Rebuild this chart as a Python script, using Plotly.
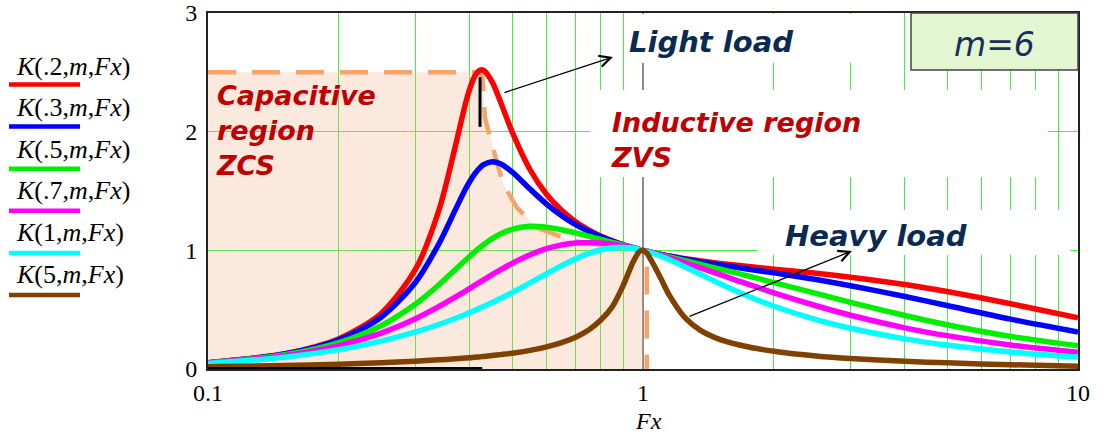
import plotly.graph_objects as go

# ---------------- data ----------------
Fx = [0.1, 0.15, 0.2, 0.25, 0.3, 0.34, 0.37, 0.39, 0.4, 0.41, 0.42, 0.43, 0.45, 0.47,
      0.5, 0.55, 0.6, 0.65, 0.7, 0.75, 0.8, 0.85, 0.9, 0.95, 0.98, 1.0, 1.02, 1.05,
      1.1, 1.15, 1.25, 1.35, 1.5, 1.75, 2, 2.5, 3, 4, 5, 7, 10]

K_02 = [0.053, 0.128, 0.255, 0.468, 0.841, 1.346, 1.871, 2.224, 2.364, 2.463,
        2.514, 2.518, 2.420, 2.255, 2.000, 1.679, 1.473, 1.337, 1.242, 1.173,
        1.121, 1.081, 1.048, 1.022, 1.008, 1.000, 0.992, 0.982, 0.966, 0.952,
        0.930, 0.912, 0.890, 0.863, 0.841, 0.806, 0.773, 0.712, 0.653, 0.550,
        0.432]
K_03 = [0.053, 0.126, 0.246, 0.436, 0.731, 1.060, 1.339, 1.510, 1.582, 1.643,
        1.689, 1.722, 1.747, 1.730, 1.661, 1.516, 1.390, 1.292, 1.217, 1.160,
        1.114, 1.077, 1.047, 1.022, 1.008, 1.000, 0.992, 0.981, 0.965, 0.950,
        0.926, 0.905, 0.878, 0.841, 0.810, 0.754, 0.702, 0.611, 0.535, 0.420,
        0.312]
K_05 = [0.051, 0.120, 0.223, 0.365, 0.547, 0.712, 0.837, 0.915, 0.951, 0.986,
        1.018, 1.047, 1.098, 1.137, 1.177, 1.202, 1.195, 1.174, 1.147, 1.119,
        1.092, 1.067, 1.043, 1.021, 1.008, 1.000, 0.992, 0.981, 0.962, 0.945,
        0.913, 0.883, 0.843, 0.782, 0.728, 0.637, 0.562, 0.451, 0.373, 0.275,
        0.196]
K_07 = [0.050, 0.112, 0.197, 0.303, 0.424, 0.527, 0.605, 0.655, 0.680, 0.704,
        0.728, 0.751, 0.795, 0.835, 0.890, 0.963, 1.014, 1.046, 1.062, 1.066,
        1.062, 1.052, 1.037, 1.019, 1.008, 1.000, 0.992, 0.980, 0.959, 0.937,
        0.895, 0.854, 0.797, 0.713, 0.642, 0.533, 0.453, 0.347, 0.281, 0.202,
        0.142]
K_1 = [0.047, 0.099, 0.163, 0.235, 0.312, 0.377, 0.426, 0.459, 0.476, 0.493,
       0.510, 0.527, 0.560, 0.594, 0.644, 0.726, 0.802, 0.871, 0.929, 0.974,
       1.005, 1.021, 1.024, 1.017, 1.008, 1.000, 0.992, 0.977, 0.950, 0.921,
       0.860, 0.801, 0.720, 0.611, 0.529, 0.416, 0.343, 0.254, 0.202, 0.144,
       0.100]
K_5 = [0.019, 0.030, 0.041, 0.053, 0.066, 0.077, 0.086, 0.092, 0.095, 0.099,
       0.102, 0.106, 0.113, 0.121, 0.133, 0.157, 0.186, 0.222, 0.268, 0.329,
       0.413, 0.525, 0.703, 0.905, 0.988, 1.000, 0.976, 0.900, 0.760, 0.620,
       0.430, 0.330, 0.250, 0.185, 0.150, 0.110, 0.088, 0.065, 0.052, 0.036,
       0.024]

series_values = [K_02, K_03, K_05, K_07, K_1, K_5]
series_labels = ["<i>K</i>(.2,<i>m</i>,<i>Fx</i>)", "<i>K</i>(.3,<i>m</i>,<i>Fx</i>)",
                 "<i>K</i>(.5,<i>m</i>,<i>Fx</i>)", "<i>K</i>(.7,<i>m</i>,<i>Fx</i>)",
                 "<i>K</i>(1,<i>m</i>,<i>Fx</i>)", "<i>K</i>(5,<i>m</i>,<i>Fx</i>)"]
series_colors = ["#ff0000", "#0000ff", "#00ee00", "#ff00ff", "#00ffff", "#804000"]

# capacitive / inductive boundary (peak locus), dashed
locus_fx = [0.1, 0.411, 0.427, 0.433, 0.445, 0.462, 0.477, 0.513, 0.571, 0.69, 0.85, 1.0]
locus_k = [2.5, 2.5, 2.49, 2.12, 1.95, 1.73, 1.56, 1.36, 1.19, 1.08, 1.03, 1.0]
edge_fx = [1.02, 1.02]
edge_k = [1.0, 0.0]
# black marks
peak_mark_fx = [0.422, 0.422]
peak_mark_k = [2.46, 2.04]
base_mark_fx = [0.1, 0.427]
base_mark_k = [0.0, 0.0]

x_minor = [0.2, 0.3, 0.4, 0.5, 0.6, 0.7, 0.8, 0.9, 2, 3, 4, 5, 6, 7, 8, 9]

# ---------------- layout helpers (pixel -> paper) ----------------
L, R, T, B = 208, 34, 13, 68
W, H = 1112, 437
PW, PH = W - L - R, H - T - B


def px_x(px):
    return (px - L) / PW


def px_y(py):
    return (H - B - py) / PH


fig = go.Figure()

# shaded capacitive region
fig.add_trace(go.Scatter(x=locus_fx, y=locus_k, mode="none", fill="tozeroy",
                         fillcolor="rgba(243,171,123,0.26)", hoverinfo="skip",
                         showlegend=False))
# dashed boundary
fig.add_trace(go.Scatter(x=locus_fx + edge_fx, y=locus_k + edge_k, mode="lines",
                         line=dict(color="#f5a46a", width=4.5, dash="28px,16px"),
                         hoverinfo="skip", showlegend=False))
# curves
for vals, name, col in zip(series_values, series_labels, series_colors):
    fig.add_trace(go.Scatter(x=Fx, y=vals, mode="lines", name=name,
                             line=dict(color=col, width=5.5, shape="spline", smoothing=0.8),
                             showlegend=False))
# black marks
fig.add_trace(go.Scatter(x=peak_mark_fx, y=peak_mark_k, mode="lines",
                         line=dict(color="black", width=3), hoverinfo="skip",
                         showlegend=False))
fig.add_trace(go.Scatter(x=base_mark_fx, y=base_mark_k, mode="lines",
                         line=dict(color="black", width=4), hoverinfo="skip",
                         cliponaxis=False, showlegend=False))

serif = "Liberation Serif, Times New Roman, serif"
sans = "DejaVu Sans, Verdana, sans-serif"

shapes = []
# white text backgrounds (hide gridlines; no curve passes through them)
for x0, x1, y0, y1 in [(628, 875, 63, T + 1), (590, 1048, 177, 90), (757, 1070, 255, 210)]:
    shapes.append(dict(type="rect", xref="paper", yref="paper", layer="above",
                       x0=px_x(x0), x1=px_x(x1), y0=px_y(y0), y1=px_y(y1),
                       fillcolor="white", line=dict(width=0)))
# m=6 box
shapes.append(dict(type="rect", xref="paper", yref="paper", layer="above",
                   x0=px_x(911), x1=1.0, y0=px_y(70), y1=1.0,
                   fillcolor="#e2f6d2", line=dict(color="#444444", width=1.5)))
# legend keys
for i, col in enumerate(series_colors):
    yl = 84.5 + 42.1 * i
    shapes.append(dict(type="line", xref="paper", yref="paper", layer="above",
                       x0=px_x(9), x1=px_x(80), y0=px_y(yl), y1=px_y(yl),
                       line=dict(color=col, width=4.5)))

annotations = []
for i, lab in enumerate(series_labels):
    yt = 66 + 41.6 * i
    annotations.append(dict(xref="paper", yref="paper", x=px_x(14), y=px_y(yt),
                            xanchor="left", yanchor="middle", showarrow=False,
                            text=lab, font=dict(family=serif, size=26, color="black")))

navy = "#0b2a52"
dred = "#c00000"
# single-line labels: (text, left px, middle px, colour)
for t, xp, yp, col in [("Light load", 627, 42, navy), ("Heavy load", 783, 236, navy)]:
    annotations.append(dict(xref="paper", yref="paper", x=px_x(xp), y=px_y(yp),
                            xanchor="left", yanchor="middle", showarrow=False,
                            text=t, font=dict(family=sans, size=29, weight="bold",
                                              style="italic", color=col)))
# multi-line region labels: (text, left px, top px)
for t, xp, yp in [("Capacitive<br>region<br>ZCS", 214, 78),
                  ("Inductive region<br>ZVS", 609, 105)]:
    annotations.append(dict(xref="paper", yref="paper", x=px_x(xp), y=px_y(yp),
                            xanchor="left", yanchor="top", align="left",
                            showarrow=False, text=t,
                            font=dict(family=sans, size=27, weight="bold",
                                      style="italic", color=dred)))
annotations.append(dict(xref="paper", yref="paper", x=px_x(994), y=px_y(44),
                        xanchor="center", yanchor="middle", showarrow=False,
                        text="m=6", font=dict(family=sans, size=33, style="italic",
                                              color="#1b2d5e")))
# arrows
annotations.append(dict(xref="paper", yref="paper", x=px_x(613), y=px_y(57),
                        ax=-110, ay=36, text="", showarrow=True, arrowhead=5,
                        arrowsize=1.7, arrowwidth=1.3, arrowcolor="black"))
annotations.append(dict(xref="paper", yref="paper", x=px_x(852), y=px_y(251),
                        ax=-164, ay=66, text="", showarrow=True, arrowhead=5,
                        arrowsize=1.7, arrowwidth=1.3, arrowcolor="black"))
# axis title
annotations.append(dict(xref="paper", yref="paper", x=px_x(648), y=px_y(421),
                        xanchor="center", yanchor="middle", showarrow=False,
                        text="<i>Fx</i>", font=dict(family=serif, size=24, color="black")))

fig.update_layout(
    width=W, height=H, margin=dict(l=L, r=R, t=T, b=B, pad=0, autoexpand=False),
    paper_bgcolor="white", plot_bgcolor="white",
    shapes=shapes, annotations=annotations, showlegend=False,
    xaxis=dict(type="log", range=[-1, 1], tickmode="array", tickvals=[0.1, 1, 10],
               ticktext=["0.1", "1", "10"], ticks="", showgrid=True, automargin=False,
               gridcolor="#8a8a8a", gridwidth=2, zeroline=False,
               minor=dict(tickmode="array", tickvals=x_minor, showgrid=True,
                          gridcolor="#44ee44", gridwidth=1, ticks=""),
               showline=True, linecolor="#222222", linewidth=2, mirror=True,
               tickfont=dict(family=serif, size=24, color="black"),
               ticklabelstandoff=1),
    yaxis=dict(range=[0, 3], tickmode="array", tickvals=[0, 1, 2, 3], ticks="",
               showgrid=True, gridcolor="#44ee44", gridwidth=1, zeroline=False,
               automargin=False,
               showline=True, linecolor="#222222", linewidth=2, mirror=True,
               tickfont=dict(family=serif, size=24, color="black"),
               ticklabelstandoff=4),
)

fig.write_html("out.html")
